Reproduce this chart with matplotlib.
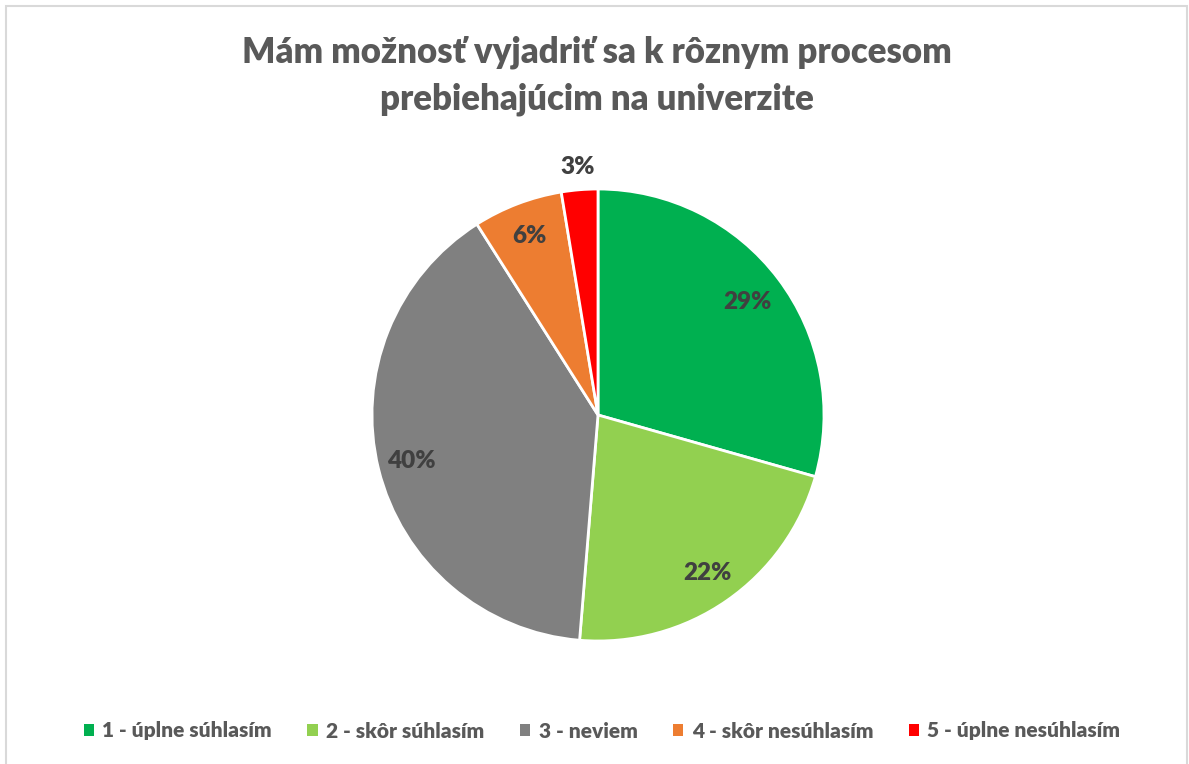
import numpy as np
import matplotlib.pyplot as plt
from matplotlib.patches import Rectangle, Patch

title = "Mám možnosť vyjadriť sa k rôznym procesom\nprebiehajúcim na univerzite"
categories = ["1 - úplne súhlasím", "2 - skôr súhlasím", "3 - neviem",
              "4 - skôr nesúhlasím", "5 - úplne nesúhlasím"]
shares = [29.4, 21.9, 39.7, 6.4, 2.6]
colors = ["#00B050", "#92D050", "#808080", "#ED7D31", "#FF0000"]
label_dist = [0.83, 0.85, 0.85, 0.85, 1.10]

plt.rcParams['font.family'] = ['Lato', 'DejaVu Sans']

W, H = 1189, 764
fig = plt.figure(figsize=(W / 100, H / 100), dpi=100)

# light grey chart border
fig.patches.append(Rectangle((6 / W, -0.05), (1187 - 6) / W, 1.05 - 6 / H,
                             transform=fig.transFigure, fill=False,
                             edgecolor="#D9D9D9", linewidth=1.5))

cx, cy, r = 598, 415, 226
ax = fig.add_axes([(cx - r) / W, (H - cy - r) / H, 2 * r / W, 2 * r / H])

wedges, _ = ax.pie(shares, colors=colors, startangle=90, counterclock=False,
                   radius=1, wedgeprops=dict(edgecolor="white", linewidth=2))
ax.set_xlim(-1, 1)
ax.set_ylim(-1, 1)
ax.set_aspect("equal")
ax.axis("off")

for w, v, d in zip(wedges, shares, label_dist):
    ang = np.deg2rad((w.theta1 + w.theta2) / 2)
    ax.text(d * np.cos(ang), d * np.sin(ang), "{:.0f}%".format(v),
            ha="center", va="center", fontsize=17.5, fontweight="heavy",
            color="#404040")

fig.text(597 / W, 1 - 76 / H, title, ha="center", va="center",
         fontsize=25, fontweight="heavy", color="#595959", linespacing=1.5)

handles = [Patch(facecolor=c, edgecolor="none") for c in colors]
fig.legend(handles, categories, loc="center", bbox_to_anchor=(602 / W, 1 - 731 / H),
           ncol=5, frameon=False, handlelength=0.5, handleheight=0.5,
           handletextpad=0.4, columnspacing=1.7,
           prop=dict(size=15, weight="heavy"), labelcolor="#595959")

fig.savefig("out.png", dpi=100)
